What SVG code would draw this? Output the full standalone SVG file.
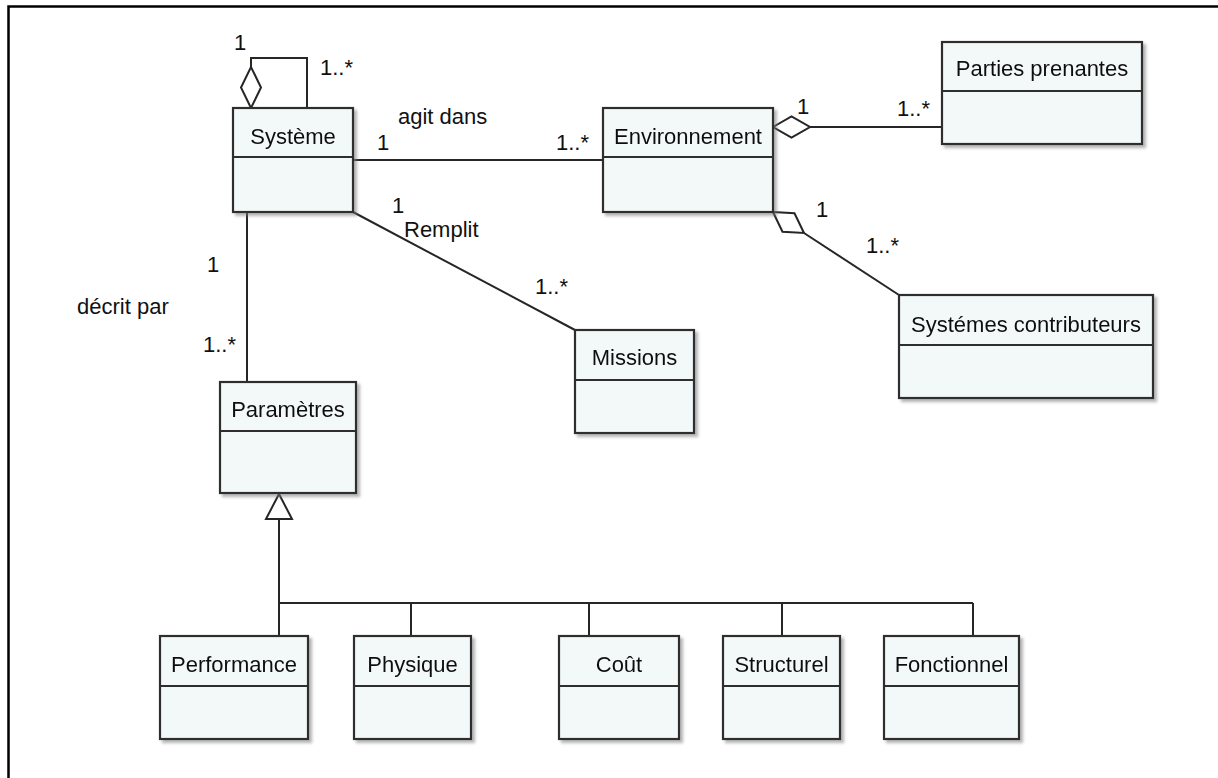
<svg xmlns="http://www.w3.org/2000/svg" width="1218" height="778" viewBox="0 0 1218 778">
  <defs>
    <filter id="shadow" x="-10%" y="-10%" width="130%" height="130%">
      <feDropShadow dx="3" dy="3" stdDeviation="1.5" flood-color="#7a7a7a" flood-opacity="0.55"/>
    </filter>
    <style>
      .box { fill: #f3f9f9; stroke: #2e2e2e; stroke-width: 2.2; }
      .sep { stroke: #2e2e2e; stroke-width: 2.2; }
      .name { font-family: "Liberation Sans", Arial, sans-serif; font-size: 22px; fill: #111; text-anchor: middle; }
      .lbl { font-family: "Liberation Sans", Arial, sans-serif; font-size: 22px; fill: #111; }
      .wire { fill: none; stroke: #262626; stroke-width: 2; }
      .agg { fill: #ffffff; stroke: #262626; stroke-width: 2; stroke-linejoin: miter; }
      .frame { stroke: #000; stroke-width: 2.5; fill: none; }
    </style>
  </defs>

  <rect width="1218" height="778" fill="#ffffff"/>

  <!-- page frame: top and left rules -->
  <path class="frame" d="M8.5,778 V6.5 H1218"/>

  <!-- association lines, aggregations and generalization -->
  <g id="connectors">
    <!-- Système self-aggregation -->
    <path class="wire" d="M251,67 V58 H307 V108"/>
    <polygon class="agg" points="251,108 261,87.5 251,67 241,87.5"/>

    <!-- agit dans -->
    <path class="wire" d="M353,160 H603"/>

    <!-- Environnement / Parties prenantes -->
    <path class="wire" d="M810,127 H942"/>
    <polygon class="agg" points="773,127 791.5,116.5 810,127 791.5,137.5"/>

    <!-- Environnement / Systémes contributeurs -->
    <path class="wire" d="M804,233 L899,295"/>
    <polygon class="agg" points="773,212 794.5,213.3 804,233 782.5,231.7"/>

    <!-- Remplit -->
    <path class="wire" d="M353,212 L575,330"/>

    <!-- décrit par -->
    <path class="wire" d="M247,212 V382"/>

    <!-- generalization of Paramètres -->
    <path class="wire" d="M279,519 V636 M279,603 H973 M411,603 V636 M589,603 V636 M782,603 V636 M973,603 V636"/>
    <polygon class="agg" points="279,494 292,519 266,519"/>

    <!-- multiplicities and role names -->
    <text class="lbl" x="234" y="50">1</text>
    <text class="lbl" x="320" y="75">1..*</text>
    <text class="lbl" x="398" y="124">agit dans</text>
    <text class="lbl" x="377" y="150">1</text>
    <text class="lbl" x="556" y="150">1..*</text>
    <text class="lbl" x="797" y="114">1</text>
    <text class="lbl" x="897" y="116">1..*</text>
    <text class="lbl" x="816" y="217">1</text>
    <text class="lbl" x="866" y="253">1..*</text>
    <text class="lbl" x="392" y="213">1</text>
    <text class="lbl" x="404" y="237">Remplit</text>
    <text class="lbl" x="535" y="294">1..*</text>
    <text class="lbl" x="207" y="272">1</text>
    <text class="lbl" x="77" y="314">décrit par</text>
    <text class="lbl" x="203" y="352">1..*</text>
  </g>

  <g id="systeme" filter="url(#shadow)">
    <rect class="box" x="233" y="108" width="120" height="104"/>
    <line class="sep" x1="233" y1="157" x2="353" y2="157"/>
    <text class="name" x="293" y="144">Système</text>
  </g>

  <g id="environnement" filter="url(#shadow)">
    <rect class="box" x="603" y="108" width="170" height="104"/>
    <line class="sep" x1="603" y1="157" x2="773" y2="157"/>
    <text class="name" x="688" y="144">Environnement</text>
  </g>

  <g id="parties-prenantes" filter="url(#shadow)">
    <rect class="box" x="942" y="42" width="200" height="102"/>
    <line class="sep" x1="942" y1="91" x2="1142" y2="91"/>
    <text class="name" x="1042" y="76">Parties prenantes</text>
  </g>

  <g id="systemes-contributeurs" filter="url(#shadow)">
    <rect class="box" x="899" y="295" width="254" height="103"/>
    <line class="sep" x1="899" y1="345" x2="1153" y2="345"/>
    <text class="name" x="1026" y="332">Systémes contributeurs</text>
  </g>

  <g id="missions" filter="url(#shadow)">
    <rect class="box" x="575" y="330" width="119" height="103"/>
    <line class="sep" x1="575" y1="380" x2="694" y2="380"/>
    <text class="name" x="634.5" y="365">Missions</text>
  </g>

  <g id="parametres" filter="url(#shadow)">
    <rect class="box" x="220" y="382" width="136" height="111"/>
    <line class="sep" x1="220" y1="431" x2="356" y2="431"/>
    <text class="name" x="288" y="417">Paramètres</text>
  </g>

  <g id="performance" filter="url(#shadow)">
    <rect class="box" x="160" y="636" width="148" height="103"/>
    <line class="sep" x1="160" y1="686" x2="308" y2="686"/>
    <text class="name" x="234" y="672">Performance</text>
  </g>

  <g id="physique" filter="url(#shadow)">
    <rect class="box" x="354" y="636" width="117" height="103"/>
    <line class="sep" x1="354" y1="686" x2="471" y2="686"/>
    <text class="name" x="412.5" y="672">Physique</text>
  </g>

  <g id="cout" filter="url(#shadow)">
    <rect class="box" x="559" y="636" width="120" height="103"/>
    <line class="sep" x1="559" y1="686" x2="679" y2="686"/>
    <text class="name" x="619" y="672">Coût</text>
  </g>

  <g id="structurel" filter="url(#shadow)">
    <rect class="box" x="723" y="636" width="117" height="103"/>
    <line class="sep" x1="723" y1="686" x2="840" y2="686"/>
    <text class="name" x="781.5" y="672">Structurel</text>
  </g>

  <g id="fonctionnel" filter="url(#shadow)">
    <rect class="box" x="884" y="636" width="135" height="103"/>
    <line class="sep" x1="884" y1="686" x2="1019" y2="686"/>
    <text class="name" x="951.5" y="672">Fonctionnel</text>
  </g>
</svg>
